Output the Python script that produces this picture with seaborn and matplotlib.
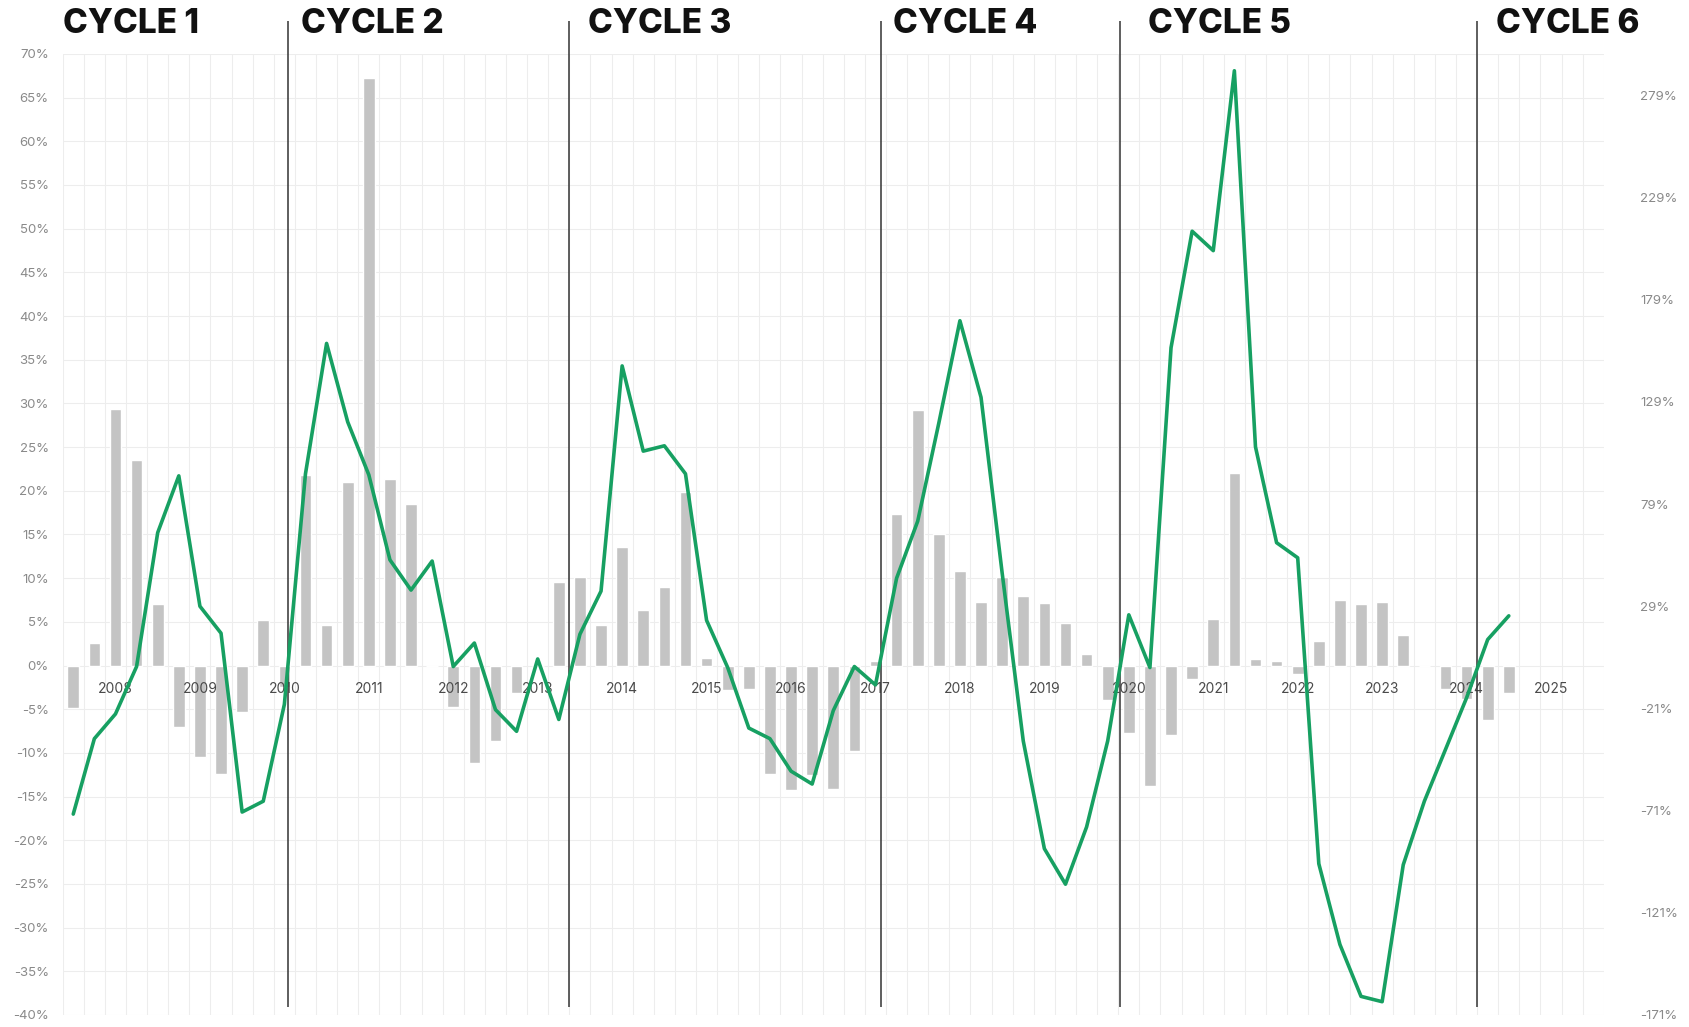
import numpy as np
import pandas as pd
import seaborn as sns
import matplotlib.pyplot as plt
from matplotlib.ticker import FuncFormatter

# quarterly bars (left axis, %), first bar = 2007 Q3
bar_vals = [-4.9, 2.6, 29.4, 23.5, 7.0, -7.0, -10.5, -12.4, -5.3, 5.2,
            -2.5, 21.8, 4.6, 21.0, 67.3, 21.3, 18.5, 0.0, -4.7, -11.2,
            -8.6, -3.2, 0.0, 9.6, 10.1, 4.6, 13.6, 6.3, 9.0, 19.9,
            0.9, -2.8, -2.7, -12.4, -14.2, -12.5, -14.1, -9.8, 0.5, 17.3,
            29.2, 15.0, 10.8, 7.3, 10.1, 8.0, 7.2, 4.9, 1.3, -4.0,
            -7.7, -13.8, -7.9, -1.5, 5.3, 22.0, 0.7, 0.5, -1.0, 2.8,
            7.5, 7.0, 7.3, 3.5, 0.0, -2.7, -3.8, -6.2, -3.2]

# green line (right axis, %)
line_vals = [-72.7, -35.8, -23.7, -0.5, 65.0, 92.8, 29.0, 15.8, -71.7, -66.4,
             -19.0, 93.8, 157.6, 119.2, 93.3, 51.7, 36.9, 51.1, -0.5, 11.0,
             -21.6, -32.2, 3.2, -26.4, 15.3, 36.4, 146.6, 104.9, 107.5, 93.8,
             22.1, -1.0, -30.6, -35.8, -51.7, -58.0, -22.1, -0.5, -9.5, 42.7,
             70.6, 118.6, 168.7, 131.2, 45.3, -36.9, -89.6, -107.0, -79.0, -36.9,
             24.8, -1.0, 155.5, 212.5, 203.0, 291.0, 107.0, 60.1, 52.7, -97.0,
             -136.5, -161.9, -164.5, -97.5, -66.4, -41.1, -15.8, 12.7, 24.3]

years = list(range(2008, 2026))
year_pos = [2 + 4 * k for k in range(len(years))]

cycle_names = ["CYCLE 1", "CYCLE 2", "CYCLE 3", "CYCLE 4", "CYCLE 5", "CYCLE 6"]
cycle_text_x = [-0.5, 10.77, 24.4, 38.85, 50.9, 67.4]
cycle_lines = [10.16, 23.48, 38.28, 49.57, 66.5]

left_ticks = list(range(-40, 75, 5))
right_ticks = list(range(-171, 280, 50))

df = pd.DataFrame({"q": np.arange(len(bar_vals)), "bar": bar_vals, "line": line_vals})

sns.set_style("white")
plt.rcParams["font.family"] = ["Inter", "DejaVu Sans"]

fig = plt.figure(figsize=(16.9, 10.27), dpi=100)
ax = fig.add_axes([0.0371, 0.0117, 0.9119, 0.9358])

# light grid drawn by hand so the year labels can sit on top of the bars
for x in np.arange(-0.5, 73, 1):
    ax.axvline(x, color="#ededed", lw=0.8, zorder=0)
for y in left_ticks:
    ax.axhline(y, color="#ededed", lw=0.8, zorder=0)

sns.barplot(data=df, x="q", y="bar", native_scale=True, width=0.55,
            color="#c4c4c4", saturation=1, errorbar=None, ax=ax)
ax.set_xlim(-0.5, 72.5)
ax.set_ylim(-40, 70)
ax.grid(False)
ax.set_axisbelow(False)

ax.set_yticks(left_ticks)
ax.yaxis.set_major_formatter(FuncFormatter(lambda v, p: f"{int(v)}%"))
ax.tick_params(axis="y", length=0, pad=10, labelsize=9.5, labelcolor="#8a8a8a")

ax.set_xticks(year_pos)
ax.set_xticklabels([str(y) for y in years])
ax.tick_params(axis="x", length=0, pad=12, labelsize=10, labelcolor="#4a4a4a")
ax.spines["bottom"].set_position(("data", 0))
for s in ax.spines.values():
    s.set_color("none")
ax.set_xlabel("")
ax.set_ylabel("")

ax2 = ax.twinx()
sns.lineplot(data=df, x="q", y="line", color="#17a062", lw=2.6, ax=ax2)
ax2.set_ylim(-40 * 4.275, 70 * 4.275)
ax2.set_yticks(right_ticks)
ax2.yaxis.set_major_formatter(FuncFormatter(lambda v, p: f"{int(v)}%"))
ax2.tick_params(axis="y", length=0, pad=26, labelsize=9.5, labelcolor="#8a8a8a")
ax2.set_ylabel("")
ax2.grid(False)
for s in ax2.spines.values():
    s.set_color("none")

# cycle separators and titles
ax.vlines(cycle_lines, 0.008, 1.034, transform=ax.get_xaxis_transform(),
          color="#333333", lw=1.1, clip_on=False, zorder=5)
for name, x in zip(cycle_names, cycle_text_x):
    ax.text(x, 1.031, name, transform=ax.get_xaxis_transform(), ha="left", va="center",
            fontsize=24, fontweight="heavy", color="#111111")

fig.savefig("out.png", dpi=100)
